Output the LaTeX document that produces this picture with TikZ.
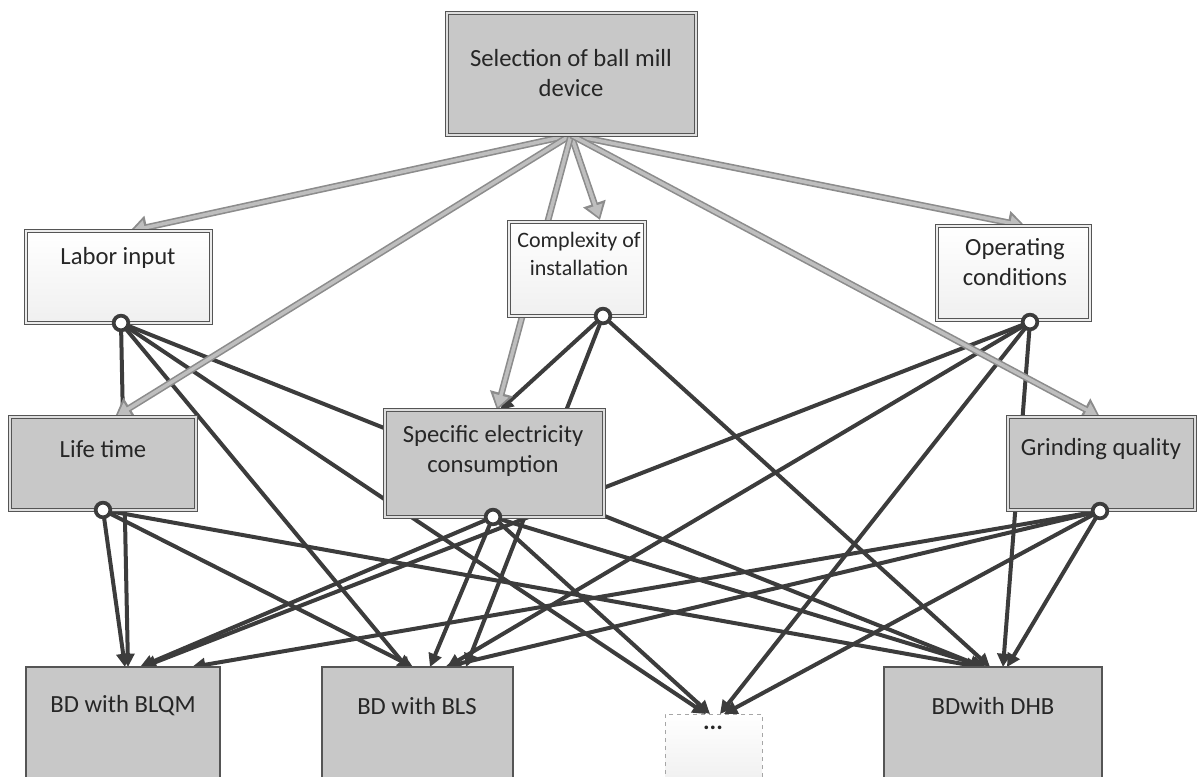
\documentclass[tikz,border=0pt]{standalone}
\usepackage{fontspec}
\setmainfont{Carlito}
\usetikzlibrary{arrows.meta}
\definecolor{boxgray}{HTML}{C8C8C8}
\definecolor{edge}{HTML}{555555}
\definecolor{dark}{HTML}{3C3C3C}
\definecolor{garrow}{HTML}{BEBEBE}
\definecolor{garrowedge}{HTML}{8C8C8C}
\begin{document}
\begin{tikzpicture}[x=0.75pt,y=-0.75pt,
 gbox/.style={draw=edge, double=boxgray!60, double distance=1.3pt, line width=0.6pt, fill=boxgray, inner sep=0pt, outer sep=0pt},
 wbox/.style={draw=edge, double=gray!15, double distance=1.3pt, line width=0.6pt, top color=white, bottom color=gray!12, inner sep=0pt, outer sep=0pt},
 bbox/.style={draw=edge, line width=0.8pt, fill=boxgray, inner sep=0pt, outer sep=0pt},
 dbox/.style={draw=gray!70, dashed, line width=0.6pt, top color=white, bottom color=gray!15, inner sep=0pt, outer sep=0pt},
 txt/.style={font=\fontsize{18.5}{22.5}\selectfont, text=black!85, align=center, inner sep=0pt},
 smalltxt/.style={txt, font=\fontsize{16.5}{21}\selectfont},
 link/.style={draw=dark, line width=3pt, -{Triangle[length=10pt,width=10pt]}},
 gouter/.style={draw=garrowedge, line width=5pt, -{Triangle[length=13pt,width=17pt]}},
 ginner/.style={draw=garrow, line width=2.6pt, -{Triangle[length=9pt,width=11pt]}, shorten >=2.2pt},
 ring/.style={circle, draw=dark, line width=2.8pt, fill=white, minimum size=11pt, inner sep=0pt},
]
\useasboundingbox (0,0) rectangle (1200,776);
\clip (0,0) rectangle (1200,776);

% connector origins
\coordinate (labC) at (121,323);
\coordinate (compC) at (603,316);
\coordinate (operC) at (1030,322);
\coordinate (lifeC) at (103,510);
\coordinate (secC) at (493,517);
\coordinate (grindC) at (1100,511);
\coordinate (topS) at (571,135);

% tip points
\coordinate (blqmA) at (128,667);
\coordinate (blqmL) at (125,667);
\coordinate (blqmS) at (140,667);
\coordinate (blqmB) at (143,667);
\coordinate (blqmG) at (192,667);
\coordinate (blsA) at (410,671);
\coordinate (blsL) at (413,667);
\coordinate (blsS) at (430,667);
\coordinate (blsC) at (466,667);
\coordinate (blsD) at (447,667);
\coordinate (blsG) at (445,667);
\coordinate (dotsA) at (706,714);
\coordinate (dotsS) at (710,714);
\coordinate (dotsD) at (720,714);
\coordinate (dotsG) at (724,714);
\coordinate (dhbA) at (983,667);
\coordinate (dhbL) at (980,667);
\coordinate (dhbC) at (990,667);
\coordinate (dhbS) at (986,667);
\coordinate (dhbD) at (1003,667);
\coordinate (dhbG) at (1007,667);
\coordinate (secT) at (500,410);

% dark connectors
\draw[link] (labC) -- (blqmA);
\draw[link] (labC) -- (blsA);
\draw[link] (labC) -- (dotsA);
\draw[link] (labC) -- (dhbA);
\draw[link] (compC) -- (secT);
\draw[link] (compC) -- (blsC);
\draw[link] (compC) -- (dhbC);
\draw[link] (operC) -- (blqmB);
\draw[link] (operC) -- (blsD);
\draw[link] (operC) -- (dotsD);
\draw[link] (operC) -- (dhbD);
\draw[link] (lifeC) -- (blqmL);
\draw[link] (lifeC) -- (blsL);
\draw[link] (lifeC) -- (dhbL);
\draw[link] (secC) -- (blqmS);
\draw[link] (secC) -- (blsS);
\draw[link] (secC) -- (dotsS);
\draw[link] (secC) -- (dhbS);
\draw[link] (grindC) -- (blqmG);
\draw[link] (grindC) -- (blsG);
\draw[link] (grindC) -- (dotsG);
\draw[link] (grindC) -- (dhbG);

% gray arrows from the top box
\coordinate (labT) at (130,231);
\coordinate (lifeT) at (115,417);
\coordinate (compT) at (600,220);
\coordinate (secG) at (497,410);
\coordinate (operT) at (1025,226);
\coordinate (grindT) at (1100,417);
\foreach \t in {labT,lifeT,compT,secG,operT,grindT}{
  \draw[gouter] (topS) -- (\t);
  \draw[ginner] (topS) -- (\t);
}

% boxes
\node[gbox, minimum width=186.75pt, minimum height=91.5pt] (top) at (571.5,74) {};
\node[wbox, minimum width=138.75pt, minimum height=69pt] (labor) at (118.5,277) {};
\node[wbox, minimum width=102pt, minimum height=70.5pt] (complex) at (577,269) {};
\node[wbox, minimum width=114.75pt, minimum height=70.5pt] (oper) at (1013.5,273) {};
\node[gbox, minimum width=139.5pt, minimum height=69.75pt] (life) at (103,463.5) {};
\node[gbox, minimum width=164.25pt, minimum height=80.25pt] (sec) at (494.5,463.5) {};
\node[gbox, minimum width=140.25pt, minimum height=69.75pt] (grind) at (1101.5,463.5) {};
\node[bbox, minimum width=145.5pt, minimum height=99.75pt] (blqm) at (123,733.5) {};
\node[bbox, minimum width=143.25pt, minimum height=99.75pt] (bls) at (417.5,733.5) {};
\node[dbox, minimum width=72.75pt, minimum height=64.5pt] (dots) at (713.5,757) {};
\node[bbox, minimum width=163.5pt, minimum height=99.75pt] (dhb) at (993,733.5) {};

% texts
\node[txt] (topX) at (571,73) {Selection of ball mill\\device};
\node[txt] (laborX) at (118,258) {Labor input};
\node[smalltxt] (complexX) at (579,254) {Complexity of\\installation};
\node[txt] (operX) at (1015,262) {Operating\\conditions};
\node[txt] (lifeX) at (103,449) {Life time};
\node[txt] (secX) at (493,451) {Specific electricity\\consumption};
\node[txt] (grindX) at (1101,449) {Grinding quality};
\node[txt] (blqmX) at (123,706) {BD with BLQM};
\node[txt] (blsX) at (417,706) {BD with BLS};
\node[txt, font=\fontsize{18.5}{22.5}\bfseries] (dotsX) at (713,728) {...};
\node[txt] (dhbX) at (993,706) {BDwith DHB};

% rings at connector origins
\foreach \c in {labC,compC,operC,lifeC,secC,grindC}{
  \node[ring] (r-\c) at (\c) {};
}
\end{tikzpicture}
\end{document}
